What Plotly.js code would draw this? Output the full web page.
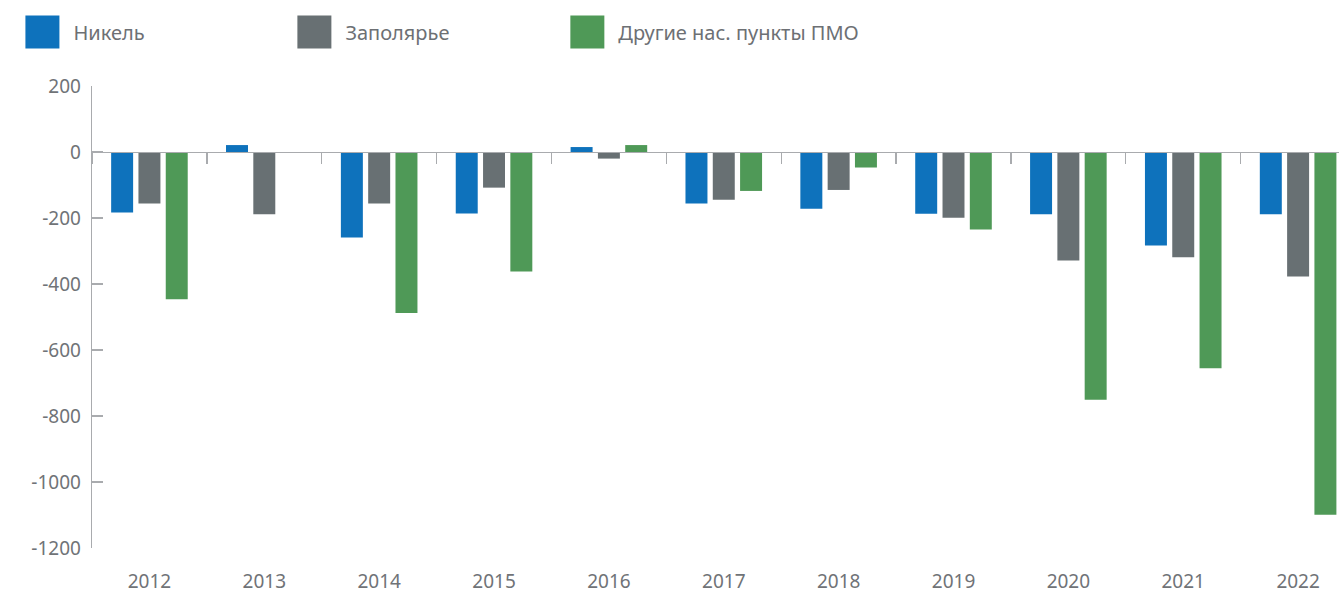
<!DOCTYPE html>
<html><head><meta charset="utf-8">
<script src="https://cdn.plot.ly/plotly-3.0.1.min.js"></script>
<style>html,body{margin:0;padding:0;background:#fff}#chart{width:1339px;height:594px}</style>
</head><body><div id="chart"></div>
<script>
const years = ['2012','2013','2014','2015','2016','2017','2018','2019','2020','2021','2022'];
const nikel = [-183, 21, -259, -186, 15, -156, -172, -187, -189, -283, -189];
const zapolyarye = [-156, -189, -156, -108, -20, -145, -115, -199, -329, -319, -377];
const others = [-446, 0, -488, -362, 21, -118, -47, -235, -751, -655, -1099];
const seriesNames = ['Никель', 'Заполярье', 'Другие нас. пункты ПМО'];
const yTickVals = [200, 0, -200, -400, -600, -800, -1000, -1200];
const yTickText = ['200', '0', '-200', '-400', '-600', '-800', '-1000', '-1200'];
const yRange = [-1200, 200];

const colors = ['#0e72bc', '#687073', '#4f9957'];
const seriesValues = [nikel, zapolyarye, others];
const legendIds = ['legend', 'legend2', 'legend3'];
const legendX = [-0.055, 0.1631, 0.382];

const traces = seriesValues.map((vals, i) => ({
  type: 'bar', name: seriesNames[i], x: years, y: vals,
  marker: {color: colors[i]}, hoverinfo: 'skip', legend: legendIds[i]
}));
traces.push({type:'scatter', mode:'markers', x: years, y: years.map(() => null),
  xaxis:'x2', yaxis:'y', showlegend:false, hoverinfo:'skip'});

const axisGray = '#a9abae';
const zeroPos = (0 - yRange[0]) / (yRange[1] - yRange[0]);

const layout = {
  width: 1339, height: 594,
  margin: {l: 92, r: 0, t: 86, b: 46, pad: 0},
  paper_bgcolor: '#fff', plot_bgcolor: '#fff',
  font: {family: 'Noto Sans, sans-serif', size: 19, color: '#707377'},
  barmode: 'group', bargap: 0.287, bargroupgap: 0.195,
  showlegend: true,
  xaxis: {type: 'category', range: [-0.5, 10.356], showline: false, ticks: '',
    showgrid: false, zeroline: false, tickfont: {size: 19, color: '#707377'},
    ticklabelstandoff: 20, fixedrange: true},
  xaxis2: {type: 'category', overlaying: 'x', anchor: 'free', position: zeroPos,
    range: [-0.5, 10.356], side: 'bottom', showline: true, linecolor: axisGray, linewidth: 1.3,
    ticks: 'outside', tickson: 'boundaries', ticklen: 11, tickcolor: axisGray, tickwidth: 1.3,
    showticklabels: false, showgrid: false, zeroline: false, fixedrange: true},
  yaxis: {range: yRange, tickvals: yTickVals, ticktext: yTickText, ticks: 'inside',
    ticklen: 11, tickcolor: axisGray, tickwidth: 1.3, showline: true, linecolor: axisGray,
    linewidth: 1.3, showgrid: false, zeroline: false, ticklabelstandoff: 6,
    tickfont: {size: 19, color: '#707377'}, fixedrange: true}
};
legendIds.forEach((id, i) => {
  layout[id] = {orientation: 'h', x: legendX[i], xanchor: 'left', y: 1.117, yanchor: 'middle',
    itemwidth: 40, font: {size: 20, color: '#6d7074'}, bgcolor: 'rgba(0,0,0,0)'};
});

Plotly.newPlot('chart', traces, layout, {staticPlot: true, displayModeBar: false}).then(() => {
  document.querySelectorAll('.legendpoints path').forEach(p => {
    p.setAttribute('d', 'M11,16.5H-23V-16.5H11Z');
  });
});
</script></body></html>
